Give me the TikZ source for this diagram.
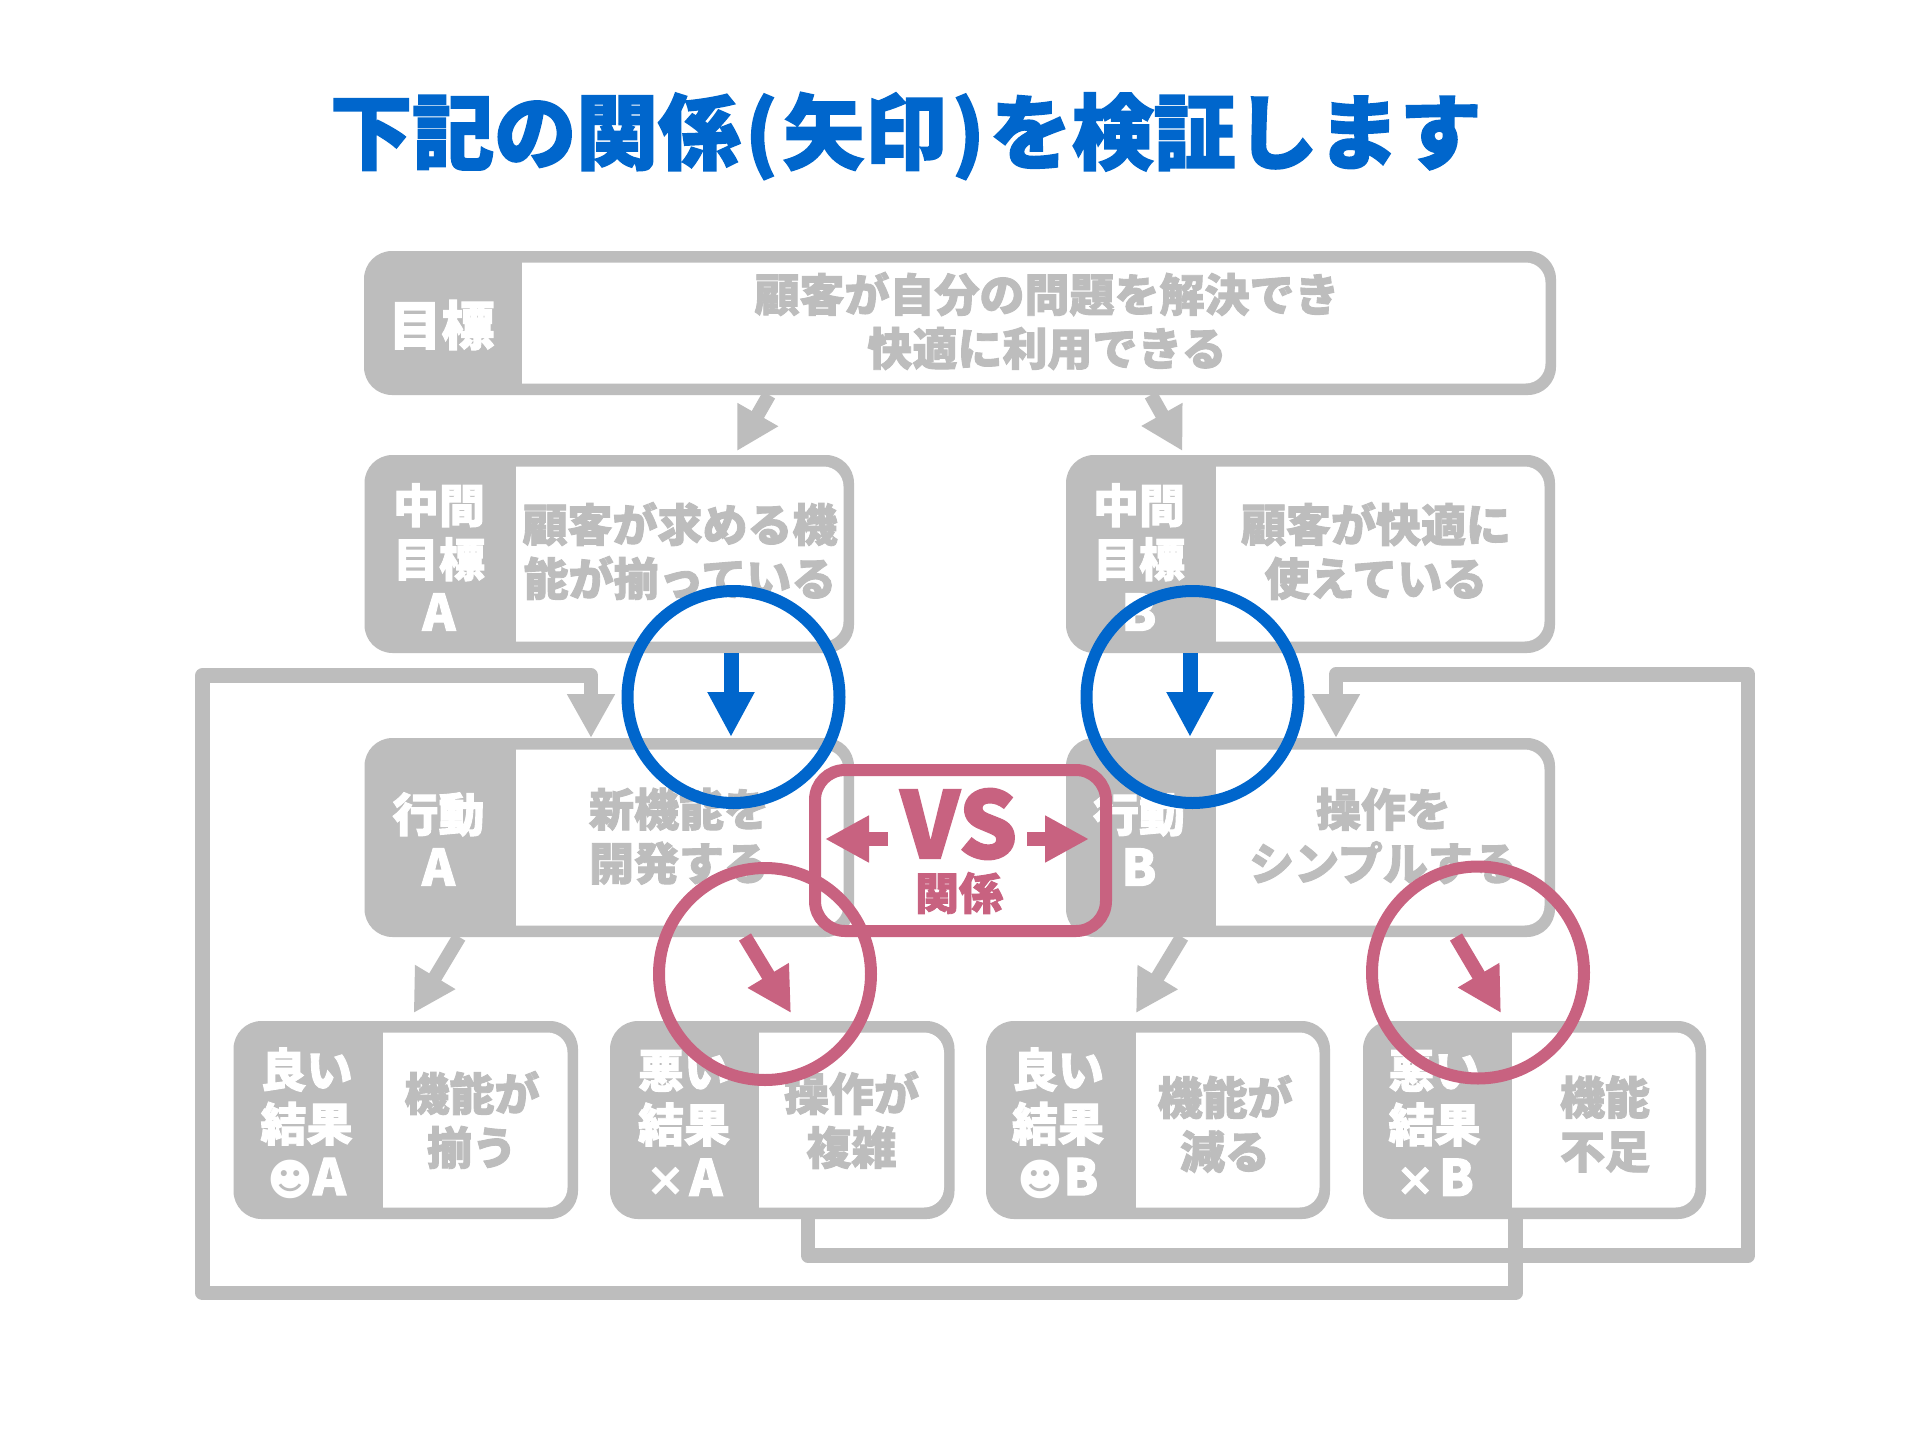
\documentclass[tikz,border=0pt]{standalone}
\usepackage{fontspec}
\setmainfont[BoldFeatures={FakeBold=2}]{Noto Sans CJK JP}
\newfontfamily\symfont{DejaVu Sans}
\usetikzlibrary{arrows.meta}
\definecolor{pgray}{RGB}{189,189,189}
\definecolor{pblue}{RGB}{0,102,204}
\definecolor{ppink}{RGB}{200,98,128}
\tikzset{
  x=1pt,y=-1pt,
  panelbox/.style={fill=pgray,rounded corners=28pt,inner sep=0pt,outer sep=0pt},
  headtxt/.style={text=white,align=center,inner sep=0pt,font=\fontsize{46}{54}\selectfont\bfseries},
  bodytxt/.style={text=pgray,align=center,inner sep=0pt,font=\fontsize{45}{54}\selectfont\bfseries},
  conn/.style={draw=pgray,line width=14pt,-{Triangle[length=42pt,width=44pt]}},
  loopconn/.style={draw=pgray,line width=14.5pt,line join=round,-{Triangle[length=44pt,width=45pt]}},
  bluearrow/.style={draw=pblue,line width=15pt,-{Triangle[length=45pt,width=44pt]}},
  pinkarrow/.style={draw=ppink,line width=14pt,-{Triangle[length=44pt,width=45pt]}},
  ring/.style={circle,inner sep=0pt,outer sep=0pt,minimum size=212pt,line width=12pt},
}
\newcommand\panel[6]{%
  \pgfmathsetmacro\cxv{(#2+#4)/2}\pgfmathsetmacro\cyv{(#3+#5)/2}%
  \pgfmathsetmacro\wv{#4-#2}\pgfmathsetmacro\hv{#5-#3}%
  \pgfmathsetmacro\rxv{#4-10.5}\pgfmathsetmacro\tyv{#3+11.5}\pgfmathsetmacro\byv{#5-11.5}%
  \pgfmathsetmacro\rxa{\rxv-20}\pgfmathsetmacro\rxb{\rxv-9}%
  \pgfmathsetmacro\tya{\tyv+20}\pgfmathsetmacro\tyb{\tyv+9}%
  \pgfmathsetmacro\bya{\byv-20}\pgfmathsetmacro\byb{\byv-9}%
  \node[panelbox,minimum width=\wv pt,minimum height=\hv pt] (#1) at (\cxv,\cyv) {};
  \fill[white] (#6,\tyv) -- (\rxa,\tyv) .. controls (\rxb,\tyv) and (\rxv,\tyb) .. (\rxv,\tya) -- (\rxv,\bya) .. controls (\rxv,\byb) and (\rxb,\byv) .. (\rxa,\byv) -- (#6,\byv) -- cycle;
}
\begin{document}
\begin{tikzpicture}
\useasboundingbox (0,0) rectangle (1920,1440);
\fill[white] (0,0) rectangle (1920,1440);
% title
\node[text=pblue,inner sep=0pt,font=\fontsize{82}{90}\selectfont\bfseries] (title) at (906,136) {下記の関係\kern5pt(\kern5pt矢印\kern5pt)\kern5ptを検証します};
% panels
\panel{goal}{364}{251}{1556}{395}{522}
\panel{midA}{364.5}{455}{854}{653}{516}
\panel{midB}{1066}{455}{1555}{653}{1216}
\panel{actA}{364.5}{738}{854}{937}{516}
\panel{actB}{1066}{738}{1555}{937}{1216}
\panel{goodA}{233.5}{1021}{578}{1219}{383}
\panel{badA}{610}{1021}{954.5}{1219}{759}
\panel{goodB}{986}{1021}{1330}{1219}{1136}
\panel{badB}{1363}{1021}{1706}{1219}{1512}
% connectors
\draw[conn] ([xshift=-191pt]goal.south) -- ([xshift=127.75pt,yshift=4pt]midA.north);
\draw[conn] ([xshift=191pt]goal.south) -- ([xshift=-128pt,yshift=4pt]midB.north);
\draw[conn] ([xshift=-150pt]actA.south) -- ([xshift=7.9pt,yshift=8pt]goodA.north);
\draw[conn] ([xshift=-128.5pt]actB.south) -- ([xshift=-22pt,yshift=8pt]goodB.north);
\draw[loopconn] ([xshift=-19pt]badB.south) -- ++(0,74) -- ++(-1313,0) -- ++(0,-617.5) -- ++(388.5,0) -- ([xshift=-18.25pt]actA.north);
\draw[loopconn] ([xshift=25.75pt]badA.south) -- ++(0,36.5) -- ++(940,0) -- ++(0,-581) -- ++(-412,0) -- ([xshift=25.5pt]actB.north);
% panel texts
\node[headtxt,font=\fontsize{53}{54}\selectfont\bfseries] (goalH) at (441.5,325) {目標};
\node[bodytxt] (goalT) at (1047,321) {顧客が自分の問題を解決でき\\快適に利用できる};
\node[headtxt] (midAH) at (439,557) {中間\\目標\\{\fontsize{50}{54}\selectfont A}};
\node[bodytxt] (midAT) at (680,551) {顧客が求める機\\能が揃っている};
\node[headtxt] (midBH) at (1139,557) {中間\\目標\\{\fontsize{50}{54}\selectfont B}};
\node[bodytxt] (midBT) at (1376,551) {顧客が快適に\\使えている};
\node[headtxt] (actAH) at (438.5,839) {行動\\{\fontsize{50}{54}\selectfont A}};
\node[bodytxt] (actAT) at (679,836) {新機能を\\開発する};
\node[headtxt] (actBH) at (1139,839) {行動\\{\fontsize{50}{54}\selectfont B}};
\node[bodytxt] (actBT) at (1383.5,836) {操作を\\シンプルする};
\node[headtxt] (goodAH) at (306.5,1123) {良い\\結果\\{\fontsize{50}{54}\selectfont{\fontsize{44}{54}\selectfont\symfont ☻}A}};
\node[bodytxt] (goodAT) at (472,1120) {機能が\\揃う};
\node[headtxt] (badAH) at (684,1123) {悪い\\結果\\{\fontsize{50}{54}\selectfont{\fontsize{40}{54}\selectfont ×}\kern4pt A}};
\node[bodytxt] (badAT) at (851.5,1120) {操作が\\複雑};
\node[headtxt] (goodBH) at (1058,1123) {良い\\結果\\{\fontsize{50}{54}\selectfont{\fontsize{44}{54}\selectfont\symfont ☻}B}};
\node[bodytxt] (goodBT) at (1225,1124) {機能が\\減る};
\node[headtxt] (badBH) at (1434.5,1123) {悪い\\結果\\{\fontsize{50}{54}\selectfont{\fontsize{40}{54}\selectfont ×}\kern4pt B}};
\node[bodytxt] (badBT) at (1605,1124) {機能\\不足};
% highlighted relations
\node[ring,draw=pblue] (ringA) at (733.5,697) {};
\node[ring,draw=pblue] (ringB) at (1192.5,697) {};
\node[ring,draw=ppink] (ringC) at (765,974) {};
\node[ring,draw=ppink] (ringD) at (1478,972.5) {};
\draw[bluearrow] ([xshift=121.75pt]midA.south) -- ([xshift=121.75pt,yshift=1pt]actA.north);
\draw[bluearrow] ([xshift=-120.5pt]midB.south) -- ([xshift=-120.5pt,yshift=1pt]actB.north);
\draw[pinkarrow] ([xshift=135.75pt]actA.south) -- ([xshift=8.75pt,yshift=8pt]badA.north);
\draw[pinkarrow] ([xshift=145.5pt]actB.south) -- ([xshift=-33.5pt,yshift=8pt]badB.north);
% VS
\node[draw=ppink,line width=12pt,rounded corners=30pt,minimum width=291pt,minimum height=161pt,inner sep=0pt,outer sep=0pt] (vsbox) at (960.5,850.5) {};
\node[text=ppink,inner sep=0pt,font=\fontsize{92}{92}\selectfont\bfseries] (vst) at (959,824) {VS};
\node[text=ppink,inner sep=0pt,font=\fontsize{44}{44}\selectfont\bfseries] (vsk) at (959,893) {関係};
\draw[pinkarrow,-{Triangle[length=44pt,width=44pt]}] ([xshift=-73pt,yshift=11.5pt]vsbox.center) -- ([xshift=-135.5pt,yshift=11.5pt]vsbox.center);
\draw[pinkarrow,-{Triangle[length=44pt,width=44pt]}] ([xshift=66.5pt,yshift=11.5pt]vsbox.center) -- ([xshift=128.5pt,yshift=11.5pt]vsbox.center);
\end{tikzpicture}
\end{document}
